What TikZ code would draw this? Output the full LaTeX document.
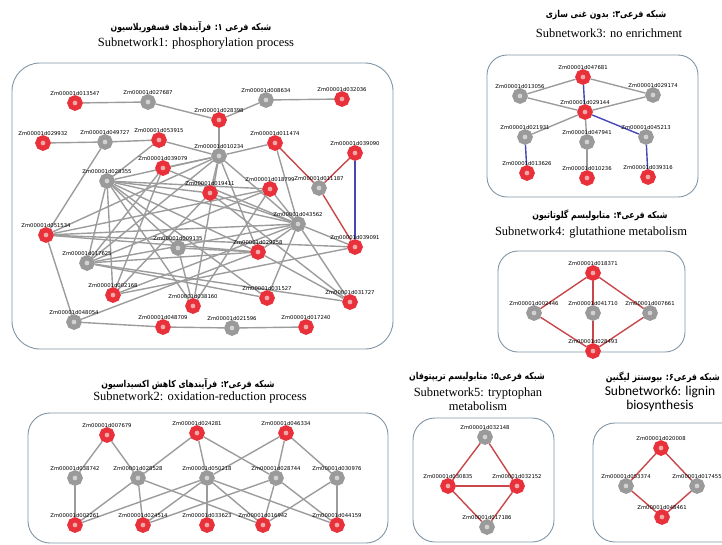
\documentclass[tikz,border=0pt]{standalone}
\usepackage{fontspec}
\setmainfont{Liberation Serif}
\newfontfamily\persfont[Script=Arabic, FakeStretch=0.82]{DejaVu Sans}
\newfontfamily\labfont{DejaVu Sans}
\newfontfamily\calfont{Carlito}
\TeXXeTstate=1
\usetikzlibrary{backgrounds}

\definecolor{nred}{HTML}{E8313A}
\definecolor{nredin}{HTML}{EFA9A9}
\definecolor{ngray}{HTML}{9A9A9A}
\definecolor{ngrayin}{HTML}{D2D2D2}
\definecolor{ecol}{HTML}{9C9C9C}
\definecolor{ered}{HTML}{C8474A}
\definecolor{eblue}{HTML}{4747B5}
\definecolor{boxc}{HTML}{8095A5}

\tikzset{
  lab/.style={font=\labfont\fontsize{5.3}{6}\selectfont, inner sep=0.5pt, label distance=-1.5pt},
  rg/.style={circle, inner sep=0pt, minimum size=10.5pt, line width=5pt, draw=nred, fill=nredin,
             label={[lab]above:Zm00001d#1}},
  gg/.style={circle, inner sep=0pt, minimum size=10.5pt, line width=5pt, draw=ngray, fill=ngrayin,
             label={[lab]above:Zm00001d#1}},
  gedge/.style={draw=ecol, line width=1.4pt},
  redge/.style={draw=ered, line width=1.4pt},
  bedge/.style={draw=eblue, line width=1.4pt},
  subbox/.style={draw=boxc, line width=0.9pt, rounded corners=#1},
  ptitle/.style={font=\persfont\bfseries\fontsize{9.5}{11}\selectfont, inner sep=0pt},
  etitle/.style={font=\fontsize{12.5}{14}\selectfont, inner sep=0pt, align=center}
}

\begin{document}
\begin{tikzpicture}[x=1pt, y=-1pt]
  \useasboundingbox (0,0) rectangle (722,544);
  \clip (0,0) rectangle (722,544);

  % boxes
  \draw[subbox=28pt] (12,63) rectangle (393,349);
  \draw[subbox=20pt] (487,55) rectangle (698,197);
  \draw[subbox=20pt] (498,251) rectangle (685,352);
  \draw[subbox=22pt] (28,413) rectangle (388,543);
  \draw[subbox=22pt] (413,418) rectangle (554,542);
  \draw[subbox=22pt] (593,423) rectangle (745,542);

  % titles
  \node[ptitle] (t1p) at (191,27) {\beginR شبکه فرعی ۱: فرآیندهای فسفوریلاسیون\endR};
  \node[etitle] (t1e) at (196,44) {Subnetwork1: phosphorylation process};
  \node[ptitle] (t2p) at (188,384) {\beginR شبکه فرعی۲: فرآیندهای کاهش اکسیداسیون\endR};
  \node[etitle] (t2e) at (200,397) {Subnetwork2: oxidation-reduction process};
  \node[ptitle] (t3p) at (606,15) {\beginR شبکه فرعی۳: بدون غنی سازی\endR};
  \node[etitle] (t3e) at (609,33) {Subnetwork3: no enrichment};
  \node[ptitle] (t4p) at (600,215) {\beginR شبکه فرعی۴: متابولیسم گلوتاتیون\endR};
  \node[etitle] (t4e) at (591,233) {Subnetwork4: glutathione metabolism};
  \node[ptitle] (t5p) at (477,377) {\beginR شبکه فرعی۵: متابولیسم تریپتوفان\endR};
  \node[etitle] (t5e) at (478,399) {Subnetwork5: tryptophan\\metabolism};
  \node[ptitle, anchor=east] (t6p) at (720,377) {\beginR شبکه فرعی۶: بیوسنتز لیگنین\endR};
  \node[etitle, font=\calfont\fontsize{13.5}{14}\selectfont] (t6e) at (660,399) {Subnetwork6: lignin\\biosynthesis};

  % subnetwork 1
  \foreach \n/\x/\y in {013547/75/103, 028398/219/120, 032036/342/99, 029932/43/143,
      053915/159/140, 011474/275/143, 039090/355/153, 039079/163/168, 019411/210/193,
      018799/270/189, 051534/46/235, 029258/258/252, 039091/355/247, 002168/113/295,
      038160/193/306, 031527/267/298, 031727/350/302, 048709/163/327, 017240/306/327}
    \node[rg=\n] (g\n) at (\x,\y) {};
  \foreach \n/\x/\y in {027687/148/102, 008634/266/100, 049727/105/142, 010234/219/156,
      028355/107/181, 011187/319/188, 043562/298/224, 009135/178/248, 017625/87/263,
      048054/74/322, 021596/232/328}
    \node[gg=\n] (g\n) at (\x,\y) {};

  % subnetwork 3
  \foreach \n/\x/\y in {047681/583/77, 029144/585/112, 013626/527/173, 010236/587/178, 039316/648/177}
    \node[rg=\n] (g\n) at (\x,\y) {};
  \foreach \n/\x/\y in {013056/520/96, 029174/653/95, 021931/525/137, 047941/587/142, 045213/646/137}
    \node[gg=\n] (g\n) at (\x,\y) {};

  % subnetwork 4
  \foreach \n/\x/\y in {018371/593/273, 028493/593/351}
    \node[rg=\n] (g\n) at (\x,\y) {};
  \foreach \n/\x/\y in {002446/534/313, 041710/593/313, 007661/650/313}
    \node[gg=\n] (g\n) at (\x,\y) {};

  % subnetwork 2
  \foreach \n/\x/\y in {007679/107/435, 024281/197/433, 046334/286/433, 002261/75/525,
      024514/143/525, 033623/207/525, 016942/263/525, 044159/337/525}
    \node[rg=\n] (g\n) at (\x,\y) {};
  \foreach \n/\x/\y in {038742/75/478, 028528/138/478, 050218/207/478, 028744/276/478, 030976/337/478}
    \node[gg=\n] (g\n) at (\x,\y) {};

  % subnetwork 5 and 6
  \foreach \n/\x/\y in {030835/448/486, 032152/517/486, 020008/661/448, 048461/662/517}
    \node[rg=\n] (g\n) at (\x,\y) {};
  \foreach \n/\x/\y in {032148/485/437, 017186/487/527, 053374/626/486, 017455/697/486}
    \node[gg=\n] (g\n) at (\x,\y) {};

  \begin{pgfonlayer}{background}
    \foreach \a/\b in {013547/027687, 027687/028398, 028398/008634, 008634/032036, 028398/010234,
        029932/049727, 049727/053915, 049727/051534, 053915/010234, 053915/028355,
        010234/011474, 010234/039079, 010234/028355, 010234/019411, 010234/029258,
        010234/017625, 010234/051534, 010234/038160, 010234/043562, 011474/043562,
        028355/019411, 028355/018799, 028355/043562, 028355/029258, 028355/031527,
        028355/038160, 028355/017625, 028355/002168, 028355/009135,
        039079/017625, 039079/002168, 039079/043562,
        051534/043562, 051534/029258, 051534/048054, 051534/018799, 051534/039091,
        019411/043562, 019411/002168, 019411/031727, 018799/043562, 018799/017625, 018799/038160,
        043562/017625, 043562/002168, 043562/031527, 043562/031727, 043562/039091, 043562/029258,
        017625/029258, 017625/031527, 017625/031727, 009135/038160, 009135/029258,
        029258/031727, 029258/048054, 039091/002168,
        048054/048709, 048709/021596, 021596/017240}
      \draw[gedge] (g\a) -- (g\b);
    \foreach \a/\b in {011474/011187, 011187/039091, 039090/011187}
      \draw[redge] (g\a) -- (g\b);
    \draw[bedge] (g039090) -- (g039091);

    % subnetwork 3
    \foreach \a/\b in {047681/013056, 047681/029174, 013056/029144, 029174/029144,
        029144/021931, 029144/047941, 047941/010236}
      \draw[gedge] (g\a) -- (g\b);
    \foreach \a/\b in {047681/029144, 029144/045213, 021931/013626, 045213/039316}
      \draw[bedge] (g\a) -- (g\b);

    % subnetwork 2
    \foreach \a/\b in {007679/038742, 007679/028528, 024281/028528, 024281/050218, 024281/028744,
        046334/050218, 046334/028744, 046334/030976, 038742/002261,
        028528/002261, 028528/024514, 028528/016942,
        050218/002261, 050218/024514, 050218/033623, 050218/016942, 050218/044159,
        028744/024514, 028744/016942, 028744/044159, 030976/016942, 030976/044159}
      \draw[gedge] (g\a) -- (g\b);

    % subnetworks 4, 5, 6
    \foreach \a/\b in {018371/002446, 018371/041710, 018371/007661, 002446/028493,
        041710/028493, 007661/028493,
        032148/030835, 032148/032152, 030835/032152, 030835/017186, 032152/017186,
        020008/053374, 020008/017455, 053374/048461, 017455/048461}
      \draw[redge] (g\a) -- (g\b);
  \end{pgfonlayer}
\end{tikzpicture}
\end{document}
